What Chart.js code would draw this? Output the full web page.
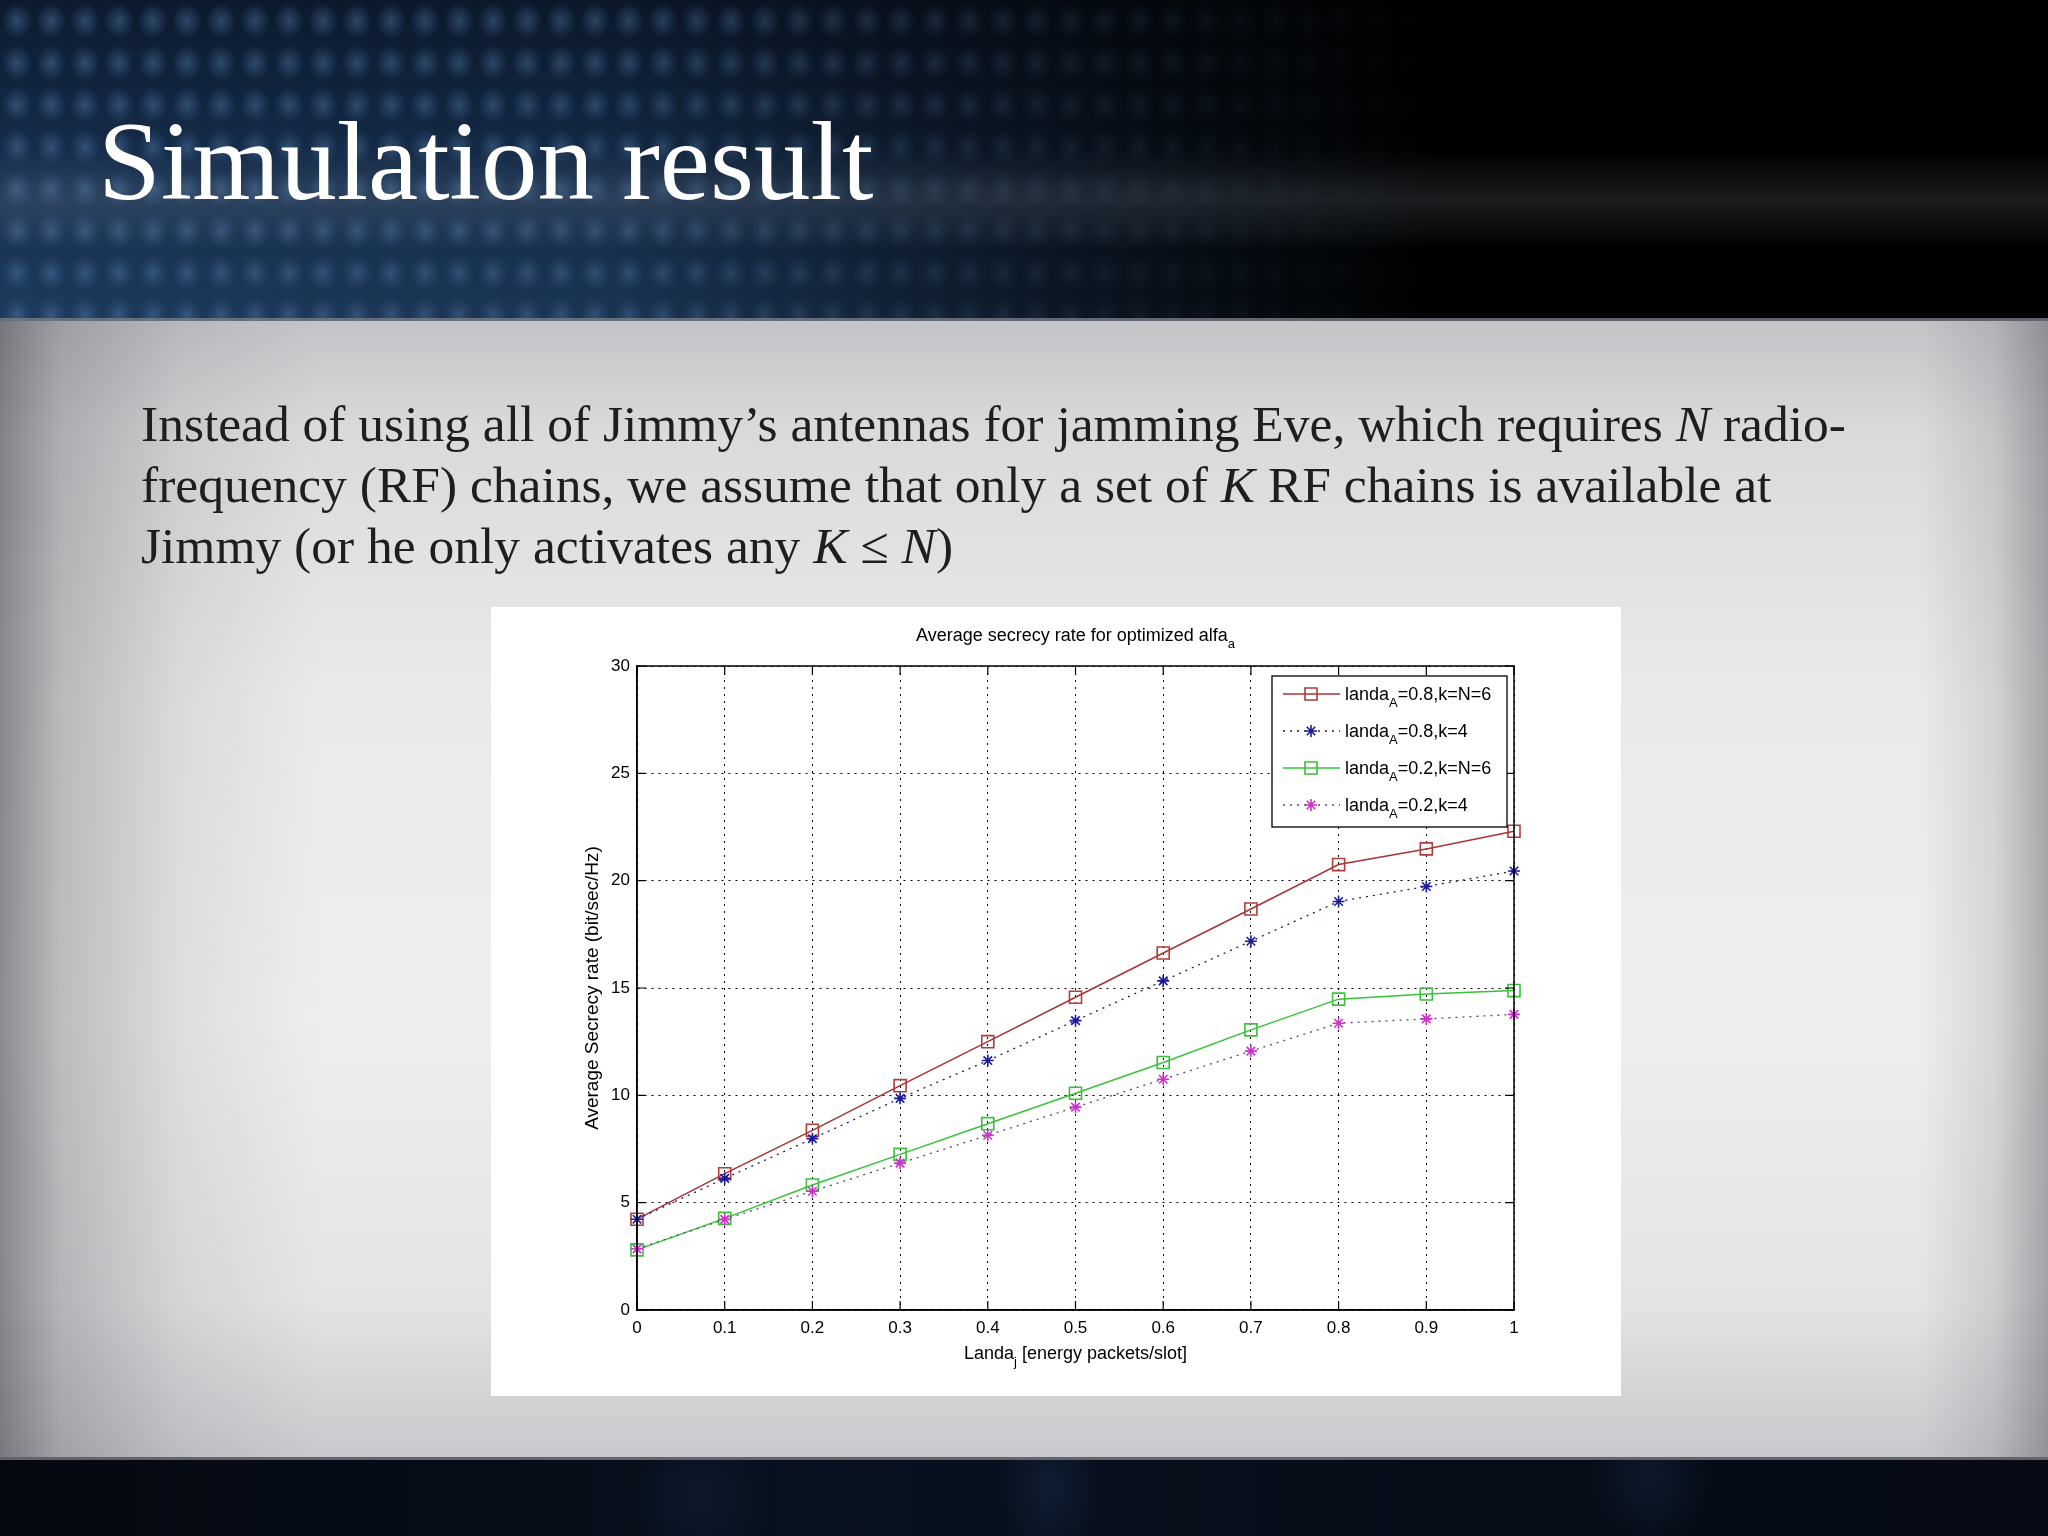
<!DOCTYPE html>
<html>
<head>
<meta charset="utf-8">
<script src="https://cdn.jsdelivr.net/npm/chart.js@4.4.0/dist/chart.umd.min.js"></script>
<style>
html,body{margin:0;padding:0;width:2048px;height:1536px;overflow:hidden;}
body{position:relative;background:#e6e6e8;font-family:"Liberation Serif","Times New Roman",serif;}
#top{position:absolute;left:0;top:0;width:2048px;height:321px;
  background:
   linear-gradient(to bottom, rgba(0,0,0,0) 0px, rgba(0,0,0,0) 150px, rgba(140,150,165,0.18) 200px, rgba(0,0,0,0) 250px),
   linear-gradient(to right, rgba(0,0,0,0) 0%, rgba(0,0,0,0.1) 30%, rgba(0,0,0,0.75) 58%, #000 70%, #000 100%),
   radial-gradient(ellipse 15px 18px at 50% 50%, rgba(80,120,165,0.5) 0%, rgba(60,95,140,0.3) 55%, rgba(0,0,0,0) 100%) 0 0/34px 42px,
   linear-gradient(to bottom, #0c1a2e 0%, #173050 55%, #1d3a5c 100%);
}
#top::after{content:"";position:absolute;left:0;right:0;bottom:0;height:3px;background:rgba(120,125,135,0.8);}
#mid{position:absolute;left:0;top:321px;width:2048px;height:1136px;
  background:
   linear-gradient(to right, rgba(40,40,50,0.5) 0px, rgba(40,40,50,0.25) 60px, rgba(40,40,50,0.08) 180px, rgba(0,0,0,0) 320px, rgba(0,0,0,0) 1920px, rgba(40,40,50,0.12) 1995px, rgba(40,40,50,0.35) 2048px),
   linear-gradient(to bottom, #c4c4c8 0px, #dadadc 110px, #eaeaea 380px, #eeeeee 700px, #e4e4e6 980px, #c9c9cd 1136px);
}
#bot{position:absolute;left:0;top:1457px;width:2048px;height:79px;
  background:
   radial-gradient(ellipse 50px 80px at 1050px 30px, rgba(30,55,90,0.35), rgba(0,0,0,0)),
   radial-gradient(ellipse 60px 70px at 1650px 20px, rgba(30,55,90,0.3), rgba(0,0,0,0)),
   radial-gradient(ellipse 70px 80px at 700px 40px, rgba(25,45,80,0.3), rgba(0,0,0,0)),
   linear-gradient(to right, #040810, #08111f 40%, #050a14 100%);
}
#bot::before{content:"";position:absolute;left:0;right:0;top:0;height:3px;background:rgba(110,110,118,0.9);}
#title{position:absolute;left:98px;top:104px;font-size:113px;line-height:1;color:#fff;white-space:nowrap;}
#body{position:absolute;left:141px;top:393px;font-size:51.5px;line-height:61px;color:#1e1e1e;white-space:nowrap;}
#chartbox{position:absolute;left:491px;top:607px;width:1130px;height:789px;background:#fff;}
</style>
</head>
<body>
<div id="top"></div>
<div id="mid"></div>
<div id="bot"></div>
<div id="title">Simulation result</div>
<div id="body">Instead of using all of Jimmy’s antennas for jamming Eve, which requires <i>N</i> radio-<br>frequency (RF) chains, we assume that only a set of <i>K</i> RF chains is available at<br>Jimmy (or he only activates any <i>K</i> ≤ <i>N</i>)</div>
<div id="chartbox"><canvas id="c"></canvas></div>
<script>
// ---- data ----
const landaJ = [0, 0.1, 0.2, 0.3, 0.4, 0.5, 0.6, 0.7, 0.8, 0.9, 1];
const xTickLabels = ['0', '0.1', '0.2', '0.3', '0.4', '0.5', '0.6', '0.7', '0.8', '0.9', '1'];
const yTickValues = [0, 5, 10, 15, 20, 25, 30];
const rateA08K6 = [4.23, 6.35, 8.37, 10.45, 12.5, 14.57, 16.63, 18.68, 20.75, 21.48, 22.3];
const rateA08K4 = [4.23, 6.13, 7.98, 9.86, 11.62, 13.48, 15.33, 17.18, 19.03, 19.73, 20.45];
const rateA02K6 = [2.8, 4.27, 5.82, 7.25, 8.68, 10.1, 11.53, 13.05, 14.48, 14.72, 14.88];
const rateA02K4 = [2.85, 4.22, 5.53, 6.84, 8.14, 9.45, 10.75, 12.06, 13.36, 13.56, 13.77];
const legendBase = ['landa', 'landa', 'landa', 'landa'];
const legendSub = ['A', 'A', 'A', 'A'];
const legendRest = ['=0.8,k=N=6', '=0.8,k=4', '=0.2,k=N=6', '=0.2,k=4'];
const chartTitle = 'Average secrecy rate for optimized alfa';
const chartTitleSub = 'a';
const xTitle = 'Landa';
const xTitleSub = 'j';
const xTitleRest = ' [energy packets/slot]';
const yTitle = 'Average Secrecy rate (bit/sec/Hz)';

const FONT = '"Liberation Sans", Arial, sans-serif';

function pts(arr) { return landaJ.map((x, i) => ({x: x, y: arr[i]})); }

const datasets = [
  {label: legendBase[0] + legendSub[0] + legendRest[0], data: pts(rateA08K6), order: 3, clip: false,
   borderColor: '#a83434', borderWidth: 1.5, pointStyle: 'rect', pointRadius: 8.5,
   pointBorderColor: '#b03c3c', pointBorderWidth: 1.6, pointBackgroundColor: 'rgba(0,0,0,0)', backgroundColor: 'rgba(0,0,0,0)'},
  {label: legendBase[1] + legendSub[1] + legendRest[1], data: pts(rateA08K4), order: 2, clip: false,
   borderColor: '#1c1c60', borderWidth: 1.3, borderDash: [2, 5], pointStyle: 'star', pointRadius: 6,
   pointBorderColor: '#1a1a9a', pointBorderWidth: 1.6, pointBackgroundColor: 'rgba(0,0,0,0)', backgroundColor: 'rgba(0,0,0,0)'},
  {label: legendBase[2] + legendSub[2] + legendRest[2], data: pts(rateA02K6), order: 1, clip: false,
   borderColor: '#36c436', borderWidth: 1.5, pointStyle: 'rect', pointRadius: 8.5,
   pointBorderColor: '#3cbf3c', pointBorderWidth: 1.6, pointBackgroundColor: 'rgba(0,0,0,0)', backgroundColor: 'rgba(0,0,0,0)'},
  {label: legendBase[3] + legendSub[3] + legendRest[3], data: pts(rateA02K4), order: 0, clip: false,
   borderColor: '#5a4a6a', borderWidth: 1.3, borderDash: [2, 5], pointStyle: 'star', pointRadius: 6,
   pointBorderColor: '#d030d0', pointBorderWidth: 1.6, pointBackgroundColor: 'rgba(0,0,0,0)', backgroundColor: 'rgba(0,0,0,0)'}
];

function textWithSub(ctx, x, y, base, sub, rest, size, align) {
  ctx.font = size + 'px ' + FONT;
  const wb = ctx.measureText(base).width;
  const subSize = Math.round(size * 0.72);
  ctx.font = subSize + 'px ' + FONT;
  const ws = ctx.measureText(sub).width;
  ctx.font = size + 'px ' + FONT;
  const wr = rest ? ctx.measureText(rest).width : 0;
  const total = wb + ws + wr;
  let x0 = x;
  if (align === 'center') x0 = x - total / 2;
  ctx.textAlign = 'left';
  ctx.textBaseline = 'alphabetic';
  ctx.fillText(base, x0, y);
  ctx.font = subSize + 'px ' + FONT;
  ctx.fillText(sub, x0 + wb, y + size * 0.38);
  ctx.font = size + 'px ' + FONT;
  if (rest) ctx.fillText(rest, x0 + wb + ws, y);
}

const decor = {
  id: 'decor',
  afterDraw(chart) {
    const ctx = chart.ctx;
    const a = chart.chartArea;
    const xs = chart.scales.x, ys = chart.scales.y;
    ctx.save();
    // box
    ctx.strokeStyle = '#000';
    ctx.lineWidth = 1.5;
    ctx.setLineDash([]);
    ctx.strokeRect(a.left, a.top, a.right - a.left, a.bottom - a.top);
    // inward ticks
    ctx.lineWidth = 1.2;
    const tl = 9;
    ctx.beginPath();
    landaJ.forEach(v => {
      const px = xs.getPixelForValue(v);
      ctx.moveTo(px, a.bottom); ctx.lineTo(px, a.bottom - tl);
      ctx.moveTo(px, a.top); ctx.lineTo(px, a.top + tl);
    });
    yTickValues.forEach(v => {
      const py = ys.getPixelForValue(v);
      ctx.moveTo(a.left, py); ctx.lineTo(a.left + tl, py);
      ctx.moveTo(a.right, py); ctx.lineTo(a.right - tl, py);
    });
    ctx.stroke();
    // chart title
    ctx.fillStyle = '#000';
    const cx = (a.left + a.right) / 2;
    textWithSub(ctx, cx, a.top - 25, chartTitle, chartTitleSub, '', 18, 'center');
    // x title
    textWithSub(ctx, cx, a.bottom + 49, xTitle, xTitleSub, xTitleRest, 18, 'center');
    // legend
    const L = {left: a.left + 635, top: a.top + 10, w: 235, h: 151};
    ctx.fillStyle = '#fff';
    ctx.fillRect(L.left, L.top, L.w, L.h);
    ctx.strokeStyle = '#000';
    ctx.lineWidth = 1.3;
    ctx.strokeRect(L.left, L.top, L.w, L.h);
    datasets.forEach((d, i) => {
      const yy = L.top + 18 + i * 37;
      ctx.strokeStyle = d.borderColor;
      ctx.lineWidth = d.borderWidth;
      ctx.setLineDash(d.borderDash || []);
      ctx.beginPath();
      ctx.moveTo(L.left + 11, yy); ctx.lineTo(L.left + 68, yy);
      ctx.stroke();
      ctx.setLineDash([]);
      ctx.strokeStyle = d.pointBorderColor;
      ctx.fillStyle = 'rgba(0,0,0,0)';
      ctx.lineWidth = d.pointBorderWidth;
      Chart.helpers.drawPoint(ctx, {pointStyle: d.pointStyle, radius: d.pointRadius, rotation: 0, borderWidth: d.pointBorderWidth}, L.left + 39, yy);
      ctx.fillStyle = '#000';
      textWithSub(ctx, L.left + 73, yy + 6, legendBase[i], legendSub[i], legendRest[i], 18, 'left');
    });
    ctx.restore();
  }
};

new Chart(document.getElementById('c'), {
  type: 'line',
  data: {datasets: datasets},
  plugins: [decor],
  options: {
    responsive: true,
    maintainAspectRatio: false,
    animation: false,
    layout: {padding: {left: 0, top: 59, right: 107, bottom: 0}},
    plugins: {legend: {display: false}, title: {display: false}, tooltip: {enabled: false}},
    scales: {
      x: {
        type: 'linear', min: 0, max: 1,
        afterFit(s) { s.height = 86; },
        afterBuildTicks(s) { s.ticks = landaJ.map(v => ({value: v})); },
        ticks: {padding: 8, color: '#000', font: {family: FONT, size: 17}, maxRotation: 0, autoSkip: false,
                callback: (v, i) => xTickLabels[i]},
        grid: {color: '#000', lineWidth: 1, drawTicks: false},
        border: {display: true, color: '#000', width: 1.5, dash: [2, 5]}
      },
      y: {
        type: 'linear', min: 0, max: 30,
        afterFit(s) { s.width = 146; },
        afterBuildTicks(s) { s.ticks = yTickValues.map(v => ({value: v})); },
        ticks: {padding: 7, color: '#000', font: {family: FONT, size: 17}},
        grid: {color: '#000', lineWidth: 1, drawTicks: false},
        border: {display: true, color: '#000', width: 1.5, dash: [2, 5]},
        title: {display: true, text: yTitle, color: '#000', font: {family: FONT, size: 19}, padding: {top: 90, bottom: 0}}
      }
    }
  }
});
</script>
</body>
</html>
